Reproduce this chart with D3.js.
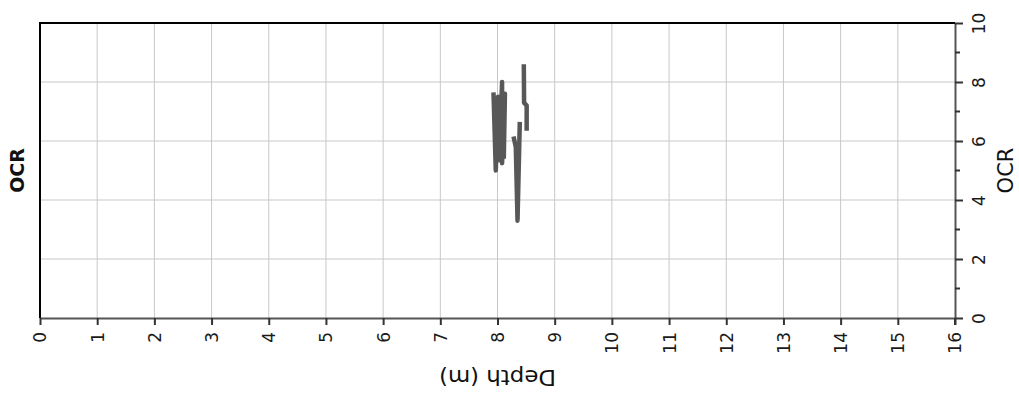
<!DOCTYPE html>
<html><head><meta charset="utf-8">
<script src="https://cdn.jsdelivr.net/npm/d3@7"></script>
<style>body{margin:0;background:#fff}svg{display:block;font-family:"DejaVu Sans",sans-serif}</style>
</head><body><svg id="c" width="1019" height="394"></svg>
<script>
const xTicks = [0,1,2,3,4,5,6,7,8,9,10,11,12,13,14,15,16];
const yTicks = [0,2,4,6,8,10];
const yMinorTicks = [1,3,5,7,9];
// OCR profile segments (depth in m, OCR)
const seg1Depth = [7.93, 7.97, 8.01, 8.03, 8.08, 8.08, 8.13, 8.11];
const seg1Ocr   = [7.65, 5.0, 7.5, 5.35, 8.0, 5.25, 7.6, 5.4];
const seg2Depth = [8.28, 8.32, 8.35, 8.39];
const seg2Ocr   = [6.15, 5.8, 3.3, 6.65];
const seg3Depth = [8.46, 8.465, 8.51, 8.51];
const seg3Ocr   = [8.6, 7.3, 7.2, 6.35];

const svg = d3.select("#c");
const L=40, R=955, T=23, B=318;
const x = d3.scaleLinear().domain([0,16]).range([L,R]);
const y = d3.scaleLinear().domain([0,10]).range([B,T]);

// grid
svg.append("g").selectAll("line").data(xTicks.slice(1,-1)).join("line")
  .attr("x1",d=>x(d)).attr("x2",d=>x(d)).attr("y1",T).attr("y2",B)
  .attr("stroke","#c8c8c8").attr("stroke-width",1);
svg.append("g").selectAll("line").data(yTicks.slice(1,-1)).join("line")
  .attr("y1",d=>y(d)).attr("y2",d=>y(d)).attr("x1",L).attr("x2",R)
  .attr("stroke","#c8c8c8").attr("stroke-width",1);

// data
const line = d3.line().x(d=>x(d[0])).y(d=>y(d[1]));
[[seg1Depth,seg1Ocr],[seg2Depth,seg2Ocr],[seg3Depth,seg3Ocr]].forEach(([dd,oo])=>{
  svg.append("path").datum(dd.map((d,i)=>[d,oo[i]])).attr("d",line)
    .attr("fill","none").attr("stroke","#585858").attr("stroke-width",4.5)
    .attr("stroke-linejoin","round");
});

// spines
svg.append("line").attr("x1",L).attr("x2",R).attr("y1",T).attr("y2",T).attr("stroke","#000").attr("stroke-width",2);
svg.append("line").attr("x1",L).attr("x2",L).attr("y1",T-1).attr("y2",B).attr("stroke","#000").attr("stroke-width",2);

// bottom axis
const xa = svg.append("g").attr("transform",`translate(0,${B})`)
  .call(d3.axisBottom(x).tickValues(xTicks).tickFormat(d3.format("d")).tickSize(7).tickSizeOuter(0));
xa.select(".domain").attr("stroke","#555").attr("stroke-width",2);
xa.selectAll(".tick line").attr("stroke","#333").attr("stroke-width",2);
xa.selectAll(".tick text").attr("font-size",17).attr("font-family","DejaVu Sans").attr("fill","#1a1a1a")
  .attr("transform","rotate(-90)").attr("text-anchor","end").attr("dy","0.35em").attr("x",-14).attr("y",0);

// right axis
const ya = svg.append("g").attr("transform",`translate(${R},0)`)
  .call(d3.axisRight(y).tickValues(yTicks).tickFormat(d3.format("d")).tickSize(8).tickSizeOuter(0));
ya.select(".domain").attr("stroke","#555").attr("stroke-width",2);
ya.selectAll(".tick line").attr("stroke","#333").attr("stroke-width",2);
ya.selectAll(".tick text").attr("font-size",17).attr("font-family","DejaVu Sans").attr("fill","#1a1a1a")
  .attr("transform","rotate(-90)").attr("text-anchor","middle").attr("x",0).attr("y",30).attr("dy","0");
svg.append("g").selectAll("line").data(yMinorTicks).join("line")
  .attr("x1",R).attr("x2",R+5).attr("y1",d=>y(d)).attr("y2",d=>y(d)).attr("stroke","#333").attr("stroke-width",2);
svg.append("line").attr("x1",R).attr("x2",R).attr("y1",B).attr("y2",B+7).attr("stroke","#333").attr("stroke-width",2);

// labels
svg.append("text").attr("transform",`translate(${(L+R)/2},377) rotate(180)`).attr("text-anchor","middle")
  .attr("dy","0.35em").attr("font-size",21).attr("textLength",117).attr("lengthAdjust","spacingAndGlyphs")
  .attr("fill","#111").text("Depth (m)");
svg.append("text").attr("transform",`translate(17,${(T+B)/2}) rotate(-90)`).attr("text-anchor","middle")
  .attr("dy","0.35em").attr("font-size",19).attr("font-weight","bold").attr("fill","#111").text("OCR");
svg.append("text").attr("transform",`translate(1006,${(T+B)/2}) rotate(-90)`).attr("text-anchor","middle")
  .attr("dy","0.35em").attr("font-size",21).attr("fill","#111").text("OCR");
</script></body></html>
